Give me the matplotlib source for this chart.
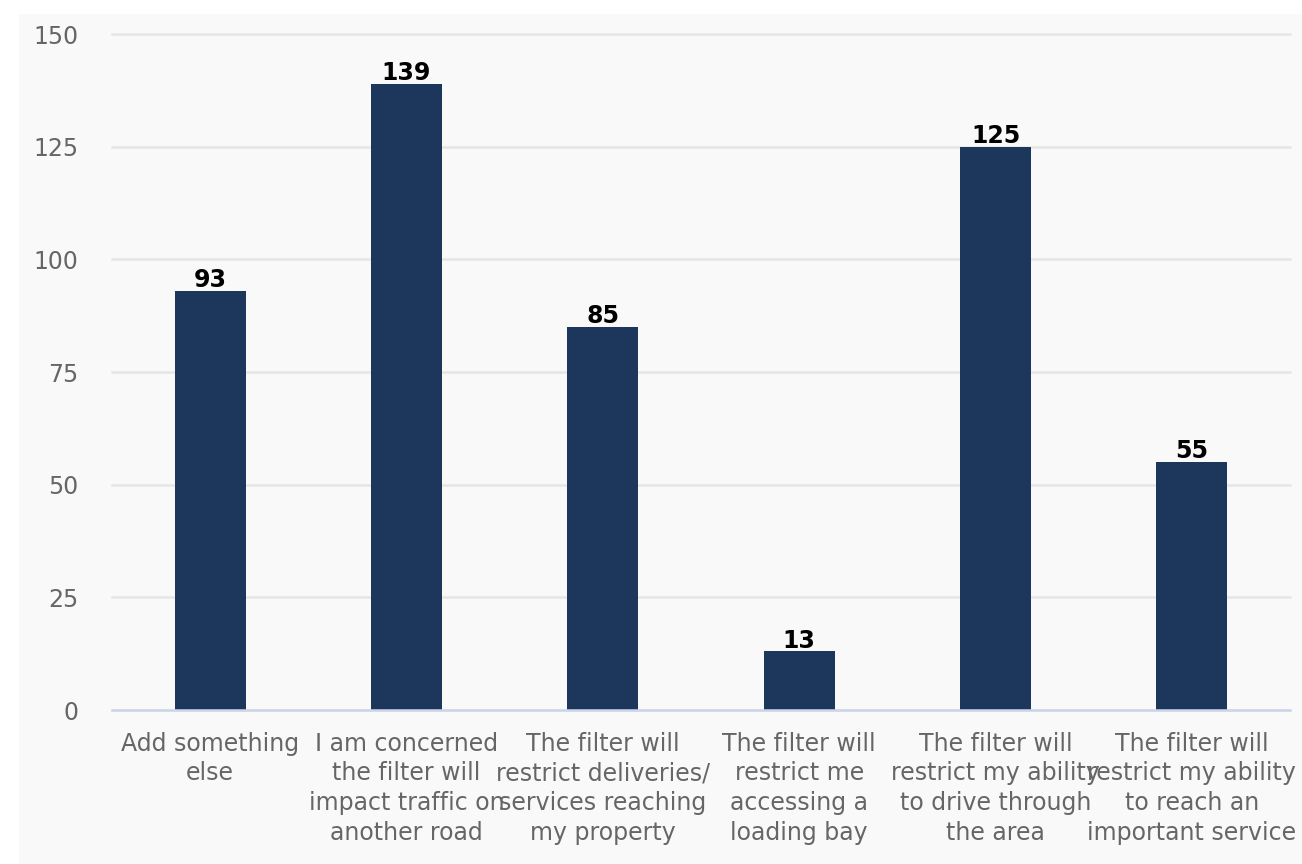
import matplotlib.pyplot as plt
from matplotlib.patches import Rectangle

plt.rcParams["font.family"] = ["DejaVu Sans"]

categories = [
    "Add something\nelse",
    "I am concerned\nthe filter will\nimpact traffic on\nanother road",
    "The filter will\nrestrict deliveries/\nservices reaching\nmy property",
    "The filter will\nrestrict me\naccessing a\nloading bay",
    "The filter will\nrestrict my ability\nto drive through\nthe area",
    "The filter will\nrestrict my ability\nto reach an\nimportant service",
]
counts = [93, 139, 85, 13, 125, 55]
yticks = [0, 25, 50, 75, 100, 125, 150]

fig = plt.figure(figsize=(13.02, 8.64), dpi=100)
fig.patches.append(Rectangle((19 / 1302, 0), 1, 1 - 14 / 864, transform=fig.transFigure,
                             facecolor="#f9f9f9", edgecolor="none", zorder=-10))

ax = fig.add_axes([112 / 1302, 1 - 710 / 864, 1178 / 1302, 676 / 864])
ax.set_facecolor("none")

x = range(len(categories))
ax.bar(x, counts, width=0.36, color="#1c365c", zorder=3)
for xi, v in zip(x, counts):
    ax.text(xi, v - 0.3, str(v), ha="center", va="bottom", fontsize=17, fontweight="bold",
            color="black", zorder=4)

ax.set_xlim(-0.5, len(categories) - 0.5)
ax.set_ylim(0, 150)
ax.set_yticks(yticks)
ax.set_xticks(list(x))
ax.set_xticklabels(categories, fontsize=17, color="#666666", linespacing=1.3)
ax.tick_params(axis="y", length=0, pad=24, labelsize=17, labelcolor="#666666")
ax.tick_params(axis="x", length=0, pad=15.5)
ax.grid(axis="y", color="#e6e6e6", linewidth=1.8, zorder=0)
for gl in ax.get_ygridlines():
    gl.set_clip_on(False)

for s in ["top", "right", "left"]:
    ax.spines[s].set_visible(False)
ax.spines["bottom"].set_color("#ccd6eb")
ax.spines["bottom"].set_linewidth(1.8)
ax.spines["bottom"].set_zorder(5)

fig.savefig("out.png", dpi=100)
